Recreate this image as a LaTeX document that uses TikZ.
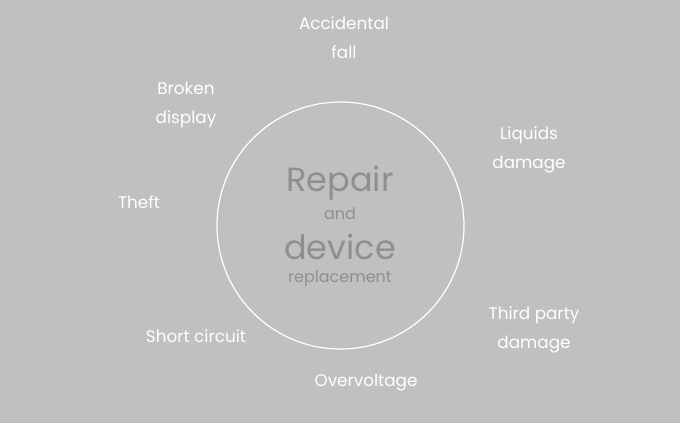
\documentclass[tikz,border=0pt]{standalone}
\usepackage{fontspec}
\setmainfont{Poppins}
\definecolor{bg}{HTML}{C0C0C0}
\definecolor{ctr}{HTML}{8F8F8F}
\begin{document}
\begin{tikzpicture}[x=1pt,y=-1pt,
  lbl/.style={text=white,font=\fontsize{16.8}{29}\selectfont,align=center,inner sep=0pt},
  big/.style={text=ctr,font=\fontsize{33.5}{33}\selectfont,inner sep=0pt},
  small/.style={text=ctr,font=\fontsize{16}{16}\selectfont,inner sep=0pt}]
\fill[bg] (0,0) rectangle (680,423);
\useasboundingbox (0,0) rectangle (680,423);
\node[draw=white,line width=1.2pt,circle,minimum size=247pt,inner sep=0pt] (c) at (340.5,225.5) {};
\node[big] (repair) at (340,183) {Repair};
\node[small] (and) at (340,214) {and};
\node[big] (device) at (340,247) {device};
\node[small] (repl) at (340,279) {replacement};
\node[lbl] (acc) at (344,37.5) {Accidental\\fall};
\node[lbl] (brok) at (186,105) {Broken\\display};
\node[lbl] (liq) at (529,150) {Liquids\\damage};
\node[lbl] (theft) at (139,202.5) {Theft};
\node[lbl] (third) at (534,330) {Third party\\damage};
\node[lbl] (short) at (196,336.5) {Short circuit};
\node[lbl] (over) at (366,382.5) {Overvoltage};
\end{tikzpicture}
\end{document}
